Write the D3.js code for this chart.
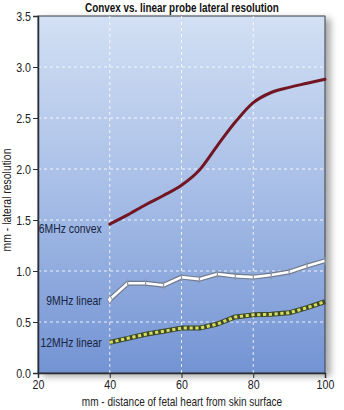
<!DOCTYPE html>
<html>
<head>
<meta charset="utf-8">
<script src="https://cdn.jsdelivr.net/npm/d3@7"></script>
<style>
  html, body { margin: 0; padding: 0; background: #ffffff; }
  svg { display: block; }
  text { font-family: "Liberation Sans", Arial, sans-serif; }
</style>
</head>
<body>
<svg id="chart" width="344" height="410"></svg>
<script>
// Depth of the fetal heart below the skin (mm)
const depths = [40, 45, 50, 55, 60, 65, 70, 75, 80, 85, 90, 95, 100];
// Lateral resolution (mm) for each probe
const convex6 = [1.46, 1.55, 1.65, 1.74, 1.84, 1.99, 2.23, 2.46, 2.65, 2.75, 2.80, 2.84, 2.88];
const linear9 = [0.72, 0.88, 0.88, 0.86, 0.94, 0.92, 0.97, 0.95, 0.94, 0.96, 0.99, 1.05, 1.10];
const linear12 = [0.30, 0.34, 0.38, 0.41, 0.44, 0.44, 0.48, 0.55, 0.57, 0.575, 0.59, 0.64, 0.70];
const seriesNames = ["6MHz convex", "9MHz linear", "12MHz linear"];
const xTicks = [20, 40, 60, 80, 100];
const yTicks = [0, 0.5, 1, 1.5, 2, 2.5, 3, 3.5];
const titleText = "Convex vs. linear probe lateral resolution";
const xTitle = "mm - distance of fetal heart from skin surface";
const yTitle = "mm - lateral resolution";

const svg = d3.select("#chart");
const m = { left: 38, right: 325, top: 16, bottom: 373 };
const x = d3.scaleLinear().domain([20, 100]).range([m.left, m.right]);
const y = d3.scaleLinear().domain([0, 3.5]).range([m.bottom, m.top]);

// squeeze text horizontally to a narrow face
function condense(factor) {
  return sel => sel.each(function () {
    const w = this.getComputedTextLength();
    d3.select(this).attr("textLength", w * factor).attr("lengthAdjust", "spacingAndGlyphs");
  });
}

const defs = svg.append("defs");
const grad = defs.append("linearGradient").attr("id", "bg").attr("x1", 0).attr("y1", 0).attr("x2", 0).attr("y2", 1);
grad.append("stop").attr("offset", "0%").attr("stop-color", "#d3e0f4");
grad.append("stop").attr("offset", "50%").attr("stop-color", "#a6bde6");
grad.append("stop").attr("offset", "100%").attr("stop-color", "#7393d3");

const shadow = defs.append("filter").attr("id", "shadow").attr("x", "-5%").attr("y", "-5%").attr("width", "115%").attr("height", "115%");
shadow.append("feDropShadow").attr("dx", 5).attr("dy", 3).attr("stdDeviation", 3.5)
  .attr("flood-color", "#000").attr("flood-opacity", 0.35);

// plot background
svg.append("rect")
  .attr("x", m.left).attr("y", m.top)
  .attr("width", m.right - m.left).attr("height", m.bottom - m.top)
  .attr("fill", "url(#bg)")
  .attr("stroke", "#3a3f48").attr("stroke-width", 1)
  .attr("filter", "url(#shadow)");

// dashed grid
const grid = svg.append("g").attr("stroke", "#ffffff").attr("stroke-width", 1)
  .attr("stroke-dasharray", "3,3").attr("opacity", 0.85);
grid.selectAll("line.h").data(yTicks.filter(v => v > 0 && v < 3.5)).join("line")
  .attr("x1", m.left).attr("x2", m.right)
  .attr("y1", d => y(d)).attr("y2", d => y(d));
grid.selectAll("line.v").data(xTicks.filter(v => v > 20 && v < 100)).join("line")
  .attr("y1", m.top).attr("y2", m.bottom)
  .attr("x1", d => x(d)).attr("x2", d => x(d));

// axes
const yAxis = svg.append("g").attr("transform", `translate(${m.left},0)`)
  .call(d3.axisLeft(y).tickValues(yTicks).tickFormat(d3.format(".1f")).tickSize(5).tickPadding(2));
const xAxis = svg.append("g").attr("transform", `translate(0,${m.bottom})`)
  .call(d3.axisBottom(x).tickValues(xTicks).tickSize(5).tickPadding(2));
[yAxis, xAxis].forEach(g => {
  g.select(".domain").attr("stroke", "#2b2f36").attr("stroke-width", 1.5);
  g.selectAll(".tick line").attr("stroke", "#2b2f36");
  g.selectAll("text").attr("font-size", 13).attr("fill", "#222")
    .attr("font-family", "'Liberation Sans', Arial, sans-serif")
    .call(condense(0.82));
});

// lines
const line = d3.line().x(d => x(d[0])).y(d => y(d[1]));
const pts = vals => depths.map((d, i) => [d, vals[i]]);

// 6MHz convex: smooth dark red curve
svg.append("path").datum(pts(convex6))
  .attr("d", line.curve(d3.curveMonotoneX))
  .attr("fill", "none").attr("stroke", "#731624").attr("stroke-width", 3)
  .attr("stroke-linecap", "round");

// 9MHz linear: white line with grey outline and bar markers
const l9 = pts(linear9);
line.curve(d3.curveLinear);
svg.append("path").datum(l9).attr("d", line)
  .attr("fill", "none").attr("stroke", "#6f7a8c").attr("stroke-width", 5).attr("stroke-linejoin", "round");
svg.append("path").datum(l9).attr("d", line)
  .attr("fill", "none").attr("stroke", "#ffffff").attr("stroke-width", 2.6).attr("stroke-linejoin", "round");
svg.append("g").selectAll("line").data(l9.slice(1)).join("line")
  .attr("x1", d => x(d[0])).attr("x2", d => x(d[0]))
  .attr("y1", d => y(d[1]) - 4).attr("y2", d => y(d[1]) + 4)
  .attr("stroke", "#8a94a4").attr("stroke-width", 1.2);
svg.append("path")
  .attr("d", d3.symbol(d3.symbolDiamond, 22)())
  .attr("transform", `translate(${x(l9[0][0])},${y(l9[0][1])})`)
  .attr("fill", "#ffffff").attr("stroke", "#7d889a").attr("stroke-width", 1);

// 12MHz linear: olive outline with yellow-green dashes
const l12 = pts(linear12);
svg.append("path").datum(l12).attr("d", line)
  .attr("fill", "none").attr("stroke", "#3d4a2c").attr("stroke-width", 5).attr("stroke-linejoin", "round");
svg.append("path").datum(l12).attr("d", line)
  .attr("fill", "none").attr("stroke", "#d6dc5e").attr("stroke-width", 3)
  .attr("stroke-dasharray", "3.2,2.6");

// series labels
const labelData = [
  { name: seriesNames[0], v: convex6[0], dy: 4 },
  { name: seriesNames[1], v: linear9[0], dy: 1 },
  { name: seriesNames[2], v: linear12[0], dy: 0 }
];
svg.append("g").selectAll("text").data(labelData).join("text")
  .attr("x", x(40) - 8).attr("y", d => y(d.v) + d.dy)
  .attr("dy", "0.35em").attr("text-anchor", "end")
  .attr("font-size", 13).attr("fill", "#16243f")
  .text(d => d.name)
  .call(condense(0.8));

// titles
svg.append("text").attr("x", 182).attr("y", 12).attr("text-anchor", "middle")
  .attr("font-size", 13).attr("font-weight", "bold").attr("fill", "#111").text(titleText).call(condense(0.76));
svg.append("text").attr("x", 182).attr("y", 406).attr("text-anchor", "middle")
  .attr("font-size", 13).attr("fill", "#222").text(xTitle).call(condense(0.77));
svg.append("text").attr("transform", "translate(11,200) rotate(-90)").attr("text-anchor", "middle")
  .attr("font-size", 13).attr("fill", "#222").text(yTitle).call(condense(0.8));
</script>
</body>
</html>
